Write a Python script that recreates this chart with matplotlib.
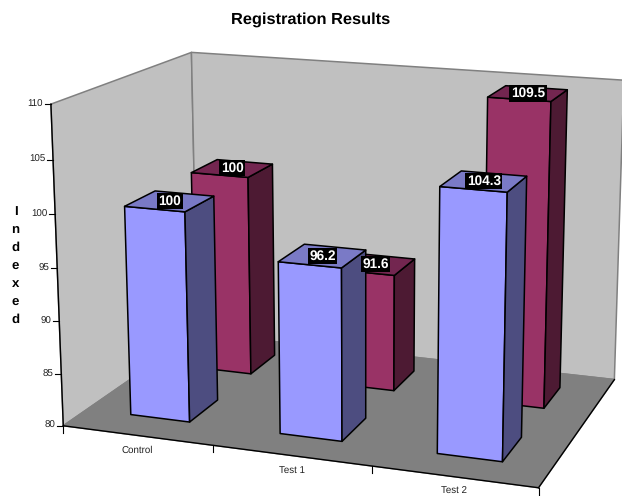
import numpy as np
import matplotlib
matplotlib.use("Agg")
import matplotlib.pyplot as plt
from matplotlib.patches import Polygon

plt.rcParams["font.family"] = ["Liberation Sans", "DejaVu Sans"]
plt.rcParams["text.hinting"] = "none"

CATEGORIES = ["Control", "Test 1", "Test 2"]
BLUE_VALUES = [100, 96.2, 104.3]
RED_VALUES = [100, 91.6, 109.5]
BLUE_LABELS = ["100", "96.2", "104.3"]
RED_LABELS = ["100", "91.6", "109.5"]
Y_TICKS = [80, 85, 90, 95, 100, 105, 110]
AXIS_LETTERS = list("Indexed")

BLUE = ("#9999FF", "#7A7AC6", "#4D4D80")
RED = ("#993366", "#732650", "#4D1A33")

# camera calibration: (category, depth, value) -> pixel
WORLD = np.array([
    (0, 0, 80), (3, 0, 80), (3, 2, 80), (0, 2, 80),
    (0, 0, 110), (3, 0, 110), (0, 2, 110), (3, 2, 110),
], dtype=float)
PIXEL = np.array([
    (63.5, 425), (538, 488), (615, 379), (197, 334),
    (50.5, 103), (547, 143), (192, 53), (623, 79),
], dtype=float)


def fit_camera(world, pixel):
    """Least-squares 3x4 projection matrix from point pairs."""
    rows = []
    rhs = []
    for (x, y, z), (u, v) in zip(world, pixel):
        rows.append([x, y, z, 1, 0, 0, 0, 0, -u * x, -u * y, -u * z])
        rows.append([0, 0, 0, 0, x, y, z, 1, -v * x, -v * y, -v * z])
        rhs += [u, v]
    p = np.linalg.lstsq(np.array(rows), np.array(rhs), rcond=None)[0]
    return np.append(p, 1).reshape(3, 4)


CAMERA = fit_camera(WORLD, PIXEL)


def project(x, y, z):
    u, v, w = CAMERA @ np.array([x, y, z, 1.0])
    return u / w, v / w


def face(ax, corners, color, edge="black", lw=1.1, zorder=2):
    pts = [project(*c) for c in corners]
    ax.add_patch(Polygon(pts, closed=True, facecolor=color, edgecolor=edge,
                         linewidth=lw, joinstyle="round", zorder=zorder))


def draw_bar(ax, x0, x1, y0, y1, value, colors, zorder):
    """Front, top and right faces of one column standing on the floor."""
    front, top, side = colors
    face(ax, [(x0, y0, 80), (x1, y0, 80), (x1, y0, value), (x0, y0, value)], front, zorder=zorder)
    face(ax, [(x1, y0, 80), (x1, y1, 80), (x1, y1, value), (x1, y0, value)], side, zorder=zorder)
    face(ax, [(x0, y0, value), (x1, y0, value), (x1, y1, value), (x0, y1, value)], top, zorder=zorder)


def value_label(ax, x, y, value, text):
    u, v = project(x, y, value)
    ax.text(u, v, text, color="white", fontsize=9.8, fontweight="bold",
            ha="center", va="center", zorder=10,
            bbox=dict(facecolor="black", edgecolor="none", pad=1.2))


def main():
    fig = plt.figure(figsize=(6.22, 4.96), dpi=100)
    ax = fig.add_axes([0, 0, 1, 1])
    ax.set_xlim(0, 622)
    ax.set_ylim(496, 0)
    ax.axis("off")

    # walls and floor
    face(ax, [(0, 0, 80), (0, 2, 80), (0, 2, 110), (0, 0, 110)], "#C0C0C0", edge="#808080", zorder=1)
    face(ax, [(0, 2, 80), (3, 2, 80), (3, 2, 110), (0, 2, 110)], "#C0C0C0", edge="#808080", zorder=1)
    face(ax, [(0, 0, 80), (3, 0, 80), (3, 2, 80), (0, 2, 80)], "#808080", edge="#808080", zorder=1)

    # axis lines
    for a, b in [((0, 0, 80), (0, 0, 110)), ((0, 0, 80), (3, 0, 80)), ((3, 0, 80), (3, 2, 80))]:
        pa, pb = project(*a), project(*b)
        ax.plot([pa[0], pb[0]], [pa[1], pb[1]], color="black", lw=1.0, zorder=1.5)

    # y ticks and labels
    for tick in Y_TICKS:
        u, v = project(0, 0, tick)
        ax.plot([u - 6, u], [v, v], color="black", lw=0.8, zorder=1.5)
        ax.text(u - 8, v, str(tick), fontsize=7, ha="right", va="center", color="#222222")

    # x ticks and labels
    for i in range(len(CATEGORIES) + 1):
        u, v = project(i, 0, 80)
        ax.plot([u, u], [v, v + 7], color="black", lw=0.8, zorder=1.5)
    for i, name in enumerate(CATEGORIES):
        u, v = project(i + 0.5, 0, 80)
        ax.text(u, v + 15, name, fontsize=7, ha="center", va="center", color="#222222")

    # columns, back row first
    bar_w = 0.40
    blue_y = (0.32, 0.75)
    red_y = (1.30, 1.72)
    for i, value in enumerate(RED_VALUES):
        draw_bar(ax, i + 0.5 - bar_w / 2, i + 0.5 + bar_w / 2, red_y[0], red_y[1], value, RED, 3 + i * 0.1)
    for i, value in enumerate(BLUE_VALUES):
        draw_bar(ax, i + 0.5 - bar_w / 2, i + 0.5 + bar_w / 2, blue_y[0], blue_y[1], value, BLUE, 4 + i * 0.1)

    for i in range(len(CATEGORIES)):
        value_label(ax, i + 0.5, sum(red_y) / 2, RED_VALUES[i], RED_LABELS[i])
        value_label(ax, i + 0.5, sum(blue_y) / 2, BLUE_VALUES[i], BLUE_LABELS[i])

    ax.text(311, 20, "Registration Results", fontsize=11.8, fontweight="bold",
            ha="center", va="center", color="black")

    # stacked axis title
    for k, letter in enumerate(AXIS_LETTERS):
        ax.text(15.5, 212 + k * 18, letter, fontsize=9.5, fontweight="bold",
                ha="center", va="center", color="black")

    fig.savefig("out.png", dpi=100)
    plt.close(fig)


if __name__ == "__main__":
    main()
